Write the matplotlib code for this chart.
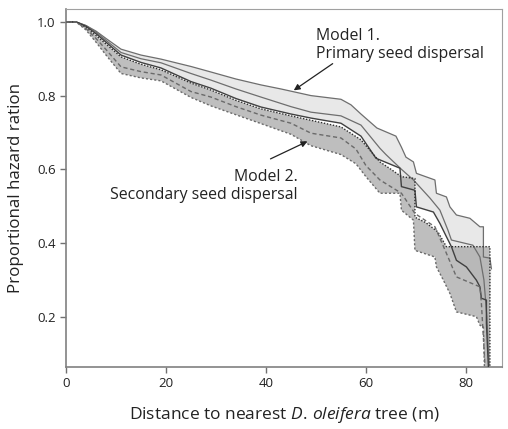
import numpy as np
import matplotlib
matplotlib.use("Agg")
import matplotlib.pyplot as plt

plt.rcParams['font.family'] = ['Open Sans', 'DejaVu Sans']
plt.rcParams['mathtext.fontset'] = 'custom'
plt.rcParams['mathtext.it'] = 'Open Sans:italic'
plt.rcParams['mathtext.rm'] = 'Open Sans'

# Model 1 (primary seed dispersal): upper CI, estimate, lower CI
m1_up_x = [0, 2, 4, 6, 8, 11, 15, 19, 25, 29, 34, 39, 43, 49, 55, 57, 59, 62.2, 66, 67.1, 68, 69.5,
           70.1, 73.8, 74.1, 76.1, 76.8, 78.1, 80.8, 82.8, 83.5, 83.5, 84.8, 85.1]
m1_up_y = [1, 1, 0.99, 0.975, 0.955, 0.926, 0.91, 0.899, 0.879, 0.864, 0.845, 0.829, 0.818, 0.80, 0.79,
           0.775, 0.75, 0.712, 0.69, 0.66, 0.633, 0.62, 0.589, 0.571, 0.535, 0.525, 0.498, 0.476, 0.467,
           0.444, 0.444, 0.362, 0.359, 0.33]
m1_mid_x = [0, 2, 4, 6, 8, 11, 15, 19, 25, 29, 34, 39, 45, 49, 55, 59, 62.8, 64, 67.1, 69.5, 72.8, 74.8,
            76.4, 77.1, 81.4, 82.8, 83.6, 84.2, 84.6]
m1_mid_y = [1, 1, 0.99, 0.972, 0.95, 0.917, 0.9, 0.889, 0.86, 0.842, 0.818, 0.796, 0.77, 0.755, 0.745,
            0.72, 0.657, 0.64, 0.6, 0.571, 0.522, 0.489, 0.435, 0.408, 0.394, 0.362, 0.3, 0.2, 0.07]
m1_lo_x = [0, 2, 4, 6, 8, 11, 15, 19, 25, 29, 34, 39, 45, 49, 55, 59, 62, 66.8, 67.1, 69.8, 70.1, 73.5,
           74.8, 76.1, 77.1, 78.1, 80.1, 82.1, 82.8, 83.1, 84.1, 84.1, 84.5]
m1_lo_y = [1, 1, 0.988, 0.968, 0.945, 0.91, 0.89, 0.875, 0.838, 0.82, 0.792, 0.769, 0.75, 0.739, 0.725,
           0.69, 0.63, 0.603, 0.553, 0.543, 0.498, 0.484, 0.453, 0.417, 0.39, 0.353, 0.335, 0.299, 0.281,
           0.25, 0.245, 0.182, 0.063]

# Model 2 (secondary seed dispersal): upper CI, estimate, lower CI
m2_up_x = [0, 2, 4, 6, 8, 11, 15, 19, 25, 29, 34, 39, 45, 49, 55, 59, 62.8, 65, 67.1, 69.8, 69.8, 72,
           74.4, 76.1, 84.8, 84.8]
m2_up_y = [1, 1, 0.985, 0.963, 0.94, 0.905, 0.885, 0.87, 0.834, 0.815, 0.787, 0.764, 0.745, 0.733, 0.715,
           0.68, 0.62, 0.6, 0.58, 0.575, 0.47, 0.455, 0.43, 0.39, 0.39, 0.06]
m2_mid_x = [0, 2, 4, 6, 8, 11, 15, 19, 25, 29, 34, 39, 45, 49, 55, 58, 60, 62.8, 67.1, 69.8, 73.8, 76.1,
            78.1, 82.8, 83.1, 83.8]
m2_mid_y = [1, 1, 0.982, 0.955, 0.925, 0.878, 0.865, 0.856, 0.811, 0.796, 0.77, 0.747, 0.725, 0.698, 0.685,
            0.655, 0.61, 0.571, 0.535, 0.48, 0.444, 0.372, 0.308, 0.281, 0.236, 0.07]
m2_lo_x = [0, 2, 4, 6, 8, 11, 15, 19, 25, 29, 34, 39, 45, 49, 55, 58, 60, 62.8, 66.8, 67.1, 69.5, 69.8,
           73.8, 74.1, 75.5, 76.8, 78.1, 82.1, 82.8, 83.5, 83.7]
m2_lo_y = [1, 1, 0.978, 0.945, 0.91, 0.86, 0.848, 0.84, 0.795, 0.772, 0.748, 0.724, 0.695, 0.664, 0.64, 0.615,
           0.58, 0.535, 0.535, 0.489, 0.462, 0.38, 0.362, 0.335, 0.299, 0.263, 0.213, 0.2, 0.177, 0.172, 0.063]

fig = plt.figure(figsize=(5.08, 4.29), dpi=100)
ax = fig.add_axes([0.130, 0.145, 0.858, 0.834])

# shaded confidence bands
ax.fill(np.r_[m1_up_x, m1_lo_x[::-1]], np.r_[m1_up_y, m1_lo_y[::-1]], color='#e8e8e8', lw=0, zorder=1)
ax.fill(np.r_[m2_up_x, m2_lo_x[::-1]], np.r_[m2_up_y, m2_lo_y[::-1]], color='#a8a8a8', alpha=0.75,
        lw=0, zorder=2)

ax.plot(m1_up_x, m1_up_y, color='#6e6e6e', lw=0.9, zorder=3)
ax.plot(m1_mid_x, m1_mid_y, color='#6e6e6e', lw=0.9, zorder=3)
ax.plot(m1_lo_x, m1_lo_y, color='#404040', lw=1.0, zorder=3)
ax.plot(m2_up_x, m2_up_y, color='#303030', lw=1.0, ls=(0, (1, 1.2)), zorder=3)
ax.plot(m2_mid_x, m2_mid_y, color='#6a6a6a', lw=1.0, ls=(0, (3, 2)), zorder=3)
ax.plot(m2_lo_x, m2_lo_y, color='#6a6a6a', lw=1.0, ls=(0, (1.5, 1.5)), zorder=3)

ax.set_xlim(0, 87.2)
ax.set_ylim(0.064, 1.035)
ax.set_xticks([0, 20, 40, 60, 80])
ax.set_yticks([0.2, 0.4, 0.6, 0.8, 1.0])
ax.set_yticklabels(['0.2', '0.4', '0.6', '0.8', '1.0'])

for s in ['top', 'right']:
    ax.spines[s].set_color('#a0a0a0')
for s in ['left', 'bottom']:
    ax.spines[s].set_color('#808080')
    ax.spines[s].set_linewidth(1.2)
ax.tick_params(colors='#707070', labelcolor='#222222', labelsize=9.5, length=4, width=1)

ax.set_xlabel(r'Distance to nearest $\mathit{D.\,oleifera}$ tree (m)', fontsize=12.5, color='#222222',
              labelpad=11)
ax.set_ylabel('Proportional hazard ration', fontsize=12.2, color='#222222', labelpad=9)

ax.text(50.0, 0.984, 'Model 1.\nPrimary seed dispersal', fontsize=11.4, color='#222222',
        ha='left', va='top', linespacing=1.2)
ax.text(46.4, 0.601, 'Model 2.\nSecondary seed dispersal', fontsize=11.4, color='#222222',
        ha='right', va='top', linespacing=1.15, multialignment='right')

ax.annotate('', xy=(45.1, 0.81), xytext=(53.8, 0.891),
            arrowprops=dict(arrowstyle='-|>', color='#222222', lw=0.9, mutation_scale=9))
ax.annotate('', xy=(48.8, 0.679), xytext=(40.4, 0.625),
            arrowprops=dict(arrowstyle='-|>', color='#222222', lw=0.9, mutation_scale=9))

fig.savefig('out.png', dpi=100)
